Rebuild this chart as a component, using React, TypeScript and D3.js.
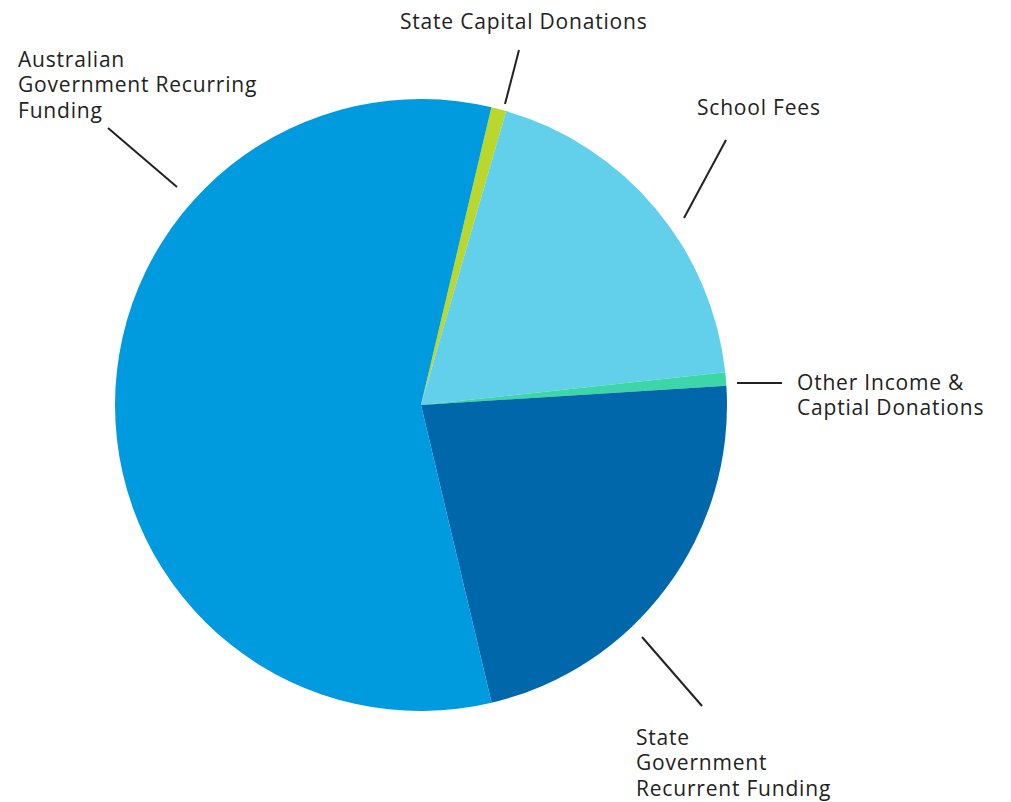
import React from "react";
import * as d3 from "d3";

const categories = [
  "State Capital Donations",
  "School Fees",
  "Other Income & Captial Donations",
  "State Government Recurrent Funding",
  "Australian Government Recurring Funding",
];
const values = [0.8, 18.8, 0.7, 22.3, 57.4];
const colors = ["#BAD72E", "#62CFEB", "#3DD6A8", "#0068AA", "#009ADE"];

const labelLines: string[][] = [
  ["State Capital Donations"],
  ["School Fees"],
  ["Other Income &", "Captial Donations"],
  ["State", "Government", "Recurrent Funding"],
  ["Australian", "Government Recurring", "Funding"],
];
const labelPos = [
  { x: 400, y: 29 },
  { x: 697, y: 115 },
  { x: 797, y: 390 },
  { x: 636, y: 745 },
  { x: 18, y: 67 },
];
const leaders = [
  [505, 104, 519, 50],
  [684, 218, 726, 140],
  [737, 383, 782, 383],
  [642, 637, 702, 706],
  [108, 128, 177, 187],
];

export default function App() {
  const W = 1011, H = 802;
  const cx = 421, cy = 405, r = 306;
  const start = (13.3 * Math.PI) / 180;
  const pie = d3.pie<number>().sort(null).startAngle(start).endAngle(start + 2 * Math.PI);
  const arcs = pie(values);
  const arc = d3.arc<d3.PieArcDatum<number>>().innerRadius(0).outerRadius(r);
  return (
    <svg width={W} height={H} style={{ position: "absolute", left: 0, top: 0 }}>
      <rect width={W} height={H} fill="#fff" />
      <g transform={`translate(${cx},${cy})`}>
        {arcs.map((a, i) => (
          <path key={i} d={arc(a) || ""} fill={colors[i]} />
        ))}
      </g>
      {leaders.map((l, i) => (
        <line key={i} x1={l[0]} y1={l[1]} x2={l[2]} y2={l[3]} stroke="#222" strokeWidth={2} />
      ))}
      {labelLines.map((lines, i) => (
        <text key={i} fontFamily="'Open Sans', sans-serif" fontSize={21} letterSpacing={0.8} fill="#222">
          {lines.map((t, j) => (
            <tspan key={j} x={labelPos[i].x} y={labelPos[i].y + j * 25.3}>
              {t}
            </tspan>
          ))}
        </text>
      ))}
    </svg>
  );
}
